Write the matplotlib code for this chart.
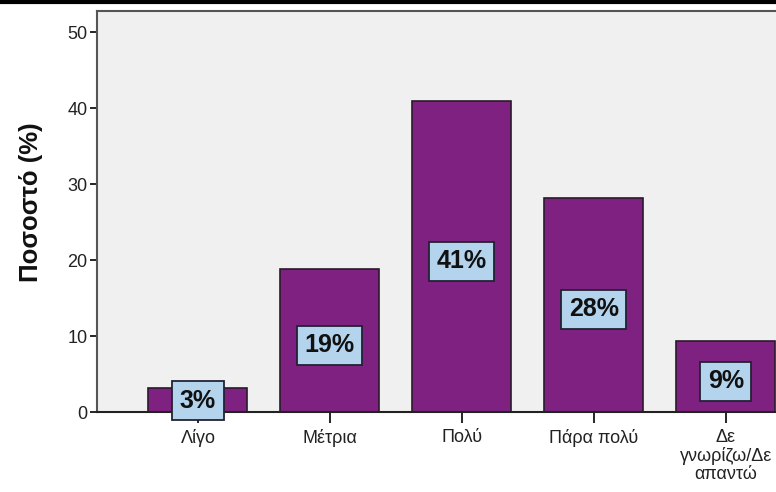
import matplotlib
matplotlib.use('Agg')
import matplotlib.pyplot as plt
from matplotlib.lines import Line2D

plt.rcParams['font.family'] = ['Liberation Sans', 'DejaVu Sans']

categories = ['Λίγο', 'Μέτρια', 'Πολύ', 'Πάρα πολύ', 'Δε\nγνωρίζω/Δε\nαπαντώ']
values = [3.2, 18.8, 40.9, 28.2, 9.3]
labels = ['3%', '19%', '41%', '28%', '9%']

fig = plt.figure(figsize=(7.76, 4.92), dpi=100)
ax = fig.add_axes([0.125, 0.1626, 0.875, 0.815])
ax.set_facecolor('#f0f0f0')

x = range(len(categories))
ax.bar(x, values, width=0.75, color='#7e2180', edgecolor='#2a1a2a', linewidth=1.2, zorder=2)

# value labels in light blue boxes, roughly at half bar height
for xi, v, lab in zip(x, values, labels):
    ax.text(xi, max(v / 2 - 0.6, 1.5), lab, ha='center', va='center', fontsize=18, fontweight='bold',
            color='#111111', zorder=3,
            bbox=dict(boxstyle='square,pad=0.3', facecolor='#b4d3ec', edgecolor='#222233', linewidth=1.3))

ax.set_xlim(-0.765, 4.38)
ax.set_ylim(0, 52.8)
ax.set_yticks([0, 10, 20, 30, 40, 50])
ax.set_xticks(list(x))
ax.set_xticklabels(categories, fontsize=13, linespacing=1.1, color='#222222')
ax.tick_params(axis='y', direction='out', length=5, width=1.2, labelsize=13, pad=2, labelcolor='#222222')
ax.tick_params(axis='x', direction='out', length=8, width=1.2, pad=4)

for s in ['left', 'bottom', 'top']:
    ax.spines[s].set_color('#555555')
    ax.spines[s].set_linewidth(1.5)
ax.spines['bottom'].set_color('#222222')
ax.spines['right'].set_visible(False)

ax.set_ylabel('Ποσοστό (%)', fontsize=18.5, fontweight='bold', color='#111111')
ax.yaxis.set_label_coords(-0.08, 0.524)

fig.add_artist(Line2D([0, 1], [0.996, 0.996], transform=fig.transFigure, color='black', linewidth=3))

fig.savefig('out.png', dpi=100)
